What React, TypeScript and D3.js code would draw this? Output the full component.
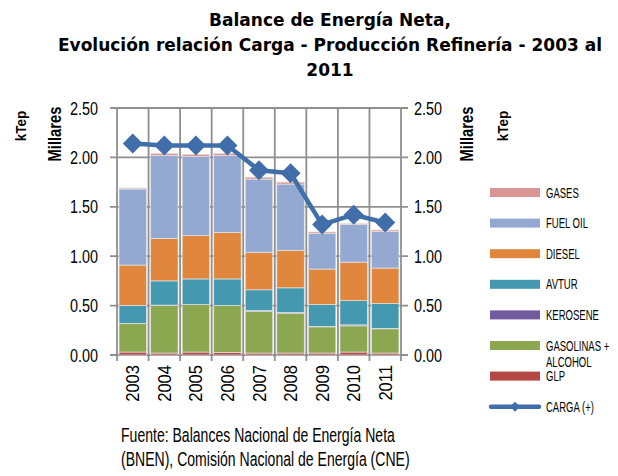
import React, { useRef, useEffect } from "react";
import * as d3 from "d3";

// años y series (miles de kTep)
const years = ["2003", "2004", "2005", "2006", "2007", "2008", "2009", "2010", "2011"];
const glp = [0.03, 0.02, 0.03, 0.025, 0.02, 0.02, 0.02, 0.03, 0.02];
const gasolinas = [0.29, 0.48, 0.48, 0.475, 0.42, 0.40, 0.265, 0.265, 0.245];
const kerosene = [0.0, 0.005, 0.0, 0.0, 0.01, 0.01, 0.005, 0.01, 0.005];
const avtur = [0.18, 0.245, 0.26, 0.27, 0.21, 0.25, 0.22, 0.245, 0.25];
const diesel = [0.41, 0.43, 0.44, 0.47, 0.38, 0.38, 0.36, 0.39, 0.36];
const fuelOil = [0.77, 0.84, 0.80, 0.78, 0.74, 0.67, 0.36, 0.38, 0.37];
const gases = [0.01, 0.02, 0.02, 0.02, 0.02, 0.02, 0.015, 0.01, 0.015];
const carga = [2.14, 2.12, 2.12, 2.12, 1.87, 1.84, 1.32, 1.42, 1.34];
const yTicks = [0, 0.5, 1, 1.5, 2, 2.5];

const keys = ["glp", "gasolinas", "kerosene", "avtur", "diesel", "fuelOil", "gases"];
const colors: Record<string, string> = {
  glp: "#B54845",
  gasolinas: "#8BA74F",
  kerosene: "#735A9E",
  avtur: "#4499B1",
  diesel: "#E0873D",
  fuelOil: "#93A9D2",
  gases: "#D99695",
};
const legendItems = [
  { key: "gases", label: ["GASES"] },
  { key: "fuelOil", label: ["FUEL OIL"] },
  { key: "diesel", label: ["DIESEL"] },
  { key: "avtur", label: ["AVTUR"] },
  { key: "kerosene", label: ["KEROSENE"] },
  { key: "gasolinas", label: ["GASOLINAS +", "ALCOHOL"] },
  { key: "glp", label: ["GLP"] },
];

const sans = "'Liberation Sans', Arial, sans-serif";

const App = () => {
  const container = useRef<SVGSVGElement>(null);
  const width = 618;
  const height = 476;

  useEffect(() => {
    const svg = d3.select(container.current);
    svg.selectAll("*").remove();

    // condensed text: the original font is very narrow, so squeeze Liberation Sans
    const narrowText = (
      x: number,
      y: number,
      str: string,
      size: number,
      sx: number,
      anchor = "start",
      rotate = 0,
      weight = "normal"
    ) =>
      svg
        .append("text")
        .attr("transform", `translate(${x},${y}) rotate(${rotate}) scale(${sx},1)`)
        .attr("text-anchor", anchor)
        .style("font-family", sans)
        .style("font-size", `${size}px`)
        .style("font-weight", weight)
        .attr("fill", "#000")
        .text(str);

    const data = years.map((year, i) => ({
      year,
      glp: glp[i],
      gasolinas: gasolinas[i],
      kerosene: kerosene[i],
      avtur: avtur[i],
      diesel: diesel[i],
      fuelOil: fuelOil[i],
      gases: gases[i],
      carga: carga[i],
    }));

    const left = 117;
    const right = 401;
    const top = 108;
    const bottom = 355;

    const xScale = d3
      .scaleBand()
      .domain(years)
      .range([left, right])
      .paddingInner(0.13)
      .paddingOuter(0.065);
    const step = xScale.step();
    const yScale = d3.scaleLinear().domain([0, 2.5]).range([bottom, top]);

    const grid = svg.append("g").attr("stroke", "#8f8f8f").attr("stroke-width", 1.8);

    // horizontal grid + ticks
    yTicks.forEach((t) => {
      grid
        .append("line")
        .attr("x1", left - 7)
        .attr("x2", right + 7)
        .attr("y1", yScale(t))
        .attr("y2", yScale(t));
    });
    // vertical grid at category boundaries
    d3.range(years.length + 1).forEach((i) => {
      const x = left + i * step;
      grid
        .append("line")
        .attr("x1", x)
        .attr("x2", x)
        .attr("y1", top)
        .attr("y2", bottom + 6);
    });

    // stacked bars
    const stackedData = d3.stack<any>().keys(keys)(data);
    svg
      .selectAll(".layer")
      .data(stackedData)
      .enter()
      .append("g")
      .attr("fill", (d) => colors[d.key])
      .selectAll("rect")
      .data((d) => d)
      .enter()
      .append("rect")
      .attr("x", (d: any) => xScale(d.data.year) as number)
      .attr("y", (d) => yScale(d[1]))
      .attr("height", (d) => yScale(d[0]) - yScale(d[1]))
      .attr("width", xScale.bandwidth())
      .attr("stroke", "#e4e4e4")
      .attr("stroke-width", 0.7);

    // line CARGA
    const lineGen = d3
      .line<any>()
      .x((d) => (xScale(d.year) as number) + xScale.bandwidth() / 2)
      .y((d) => yScale(d.carga));
    svg
      .append("path")
      .datum(data)
      .attr("d", lineGen)
      .attr("fill", "none")
      .attr("stroke", "#3F6EAA")
      .attr("stroke-width", 4.5)
      .attr("stroke-linejoin", "round");

    const diamond = "M0,-10L10,0L0,10L-10,0Z";
    svg
      .selectAll(".marker")
      .data(data)
      .enter()
      .append("path")
      .attr("d", diamond)
      .attr(
        "transform",
        (d) => `translate(${(xScale(d.year) as number) + xScale.bandwidth() / 2},${yScale(d.carga)})`
      )
      .attr("fill", "#3F6EAA");

    // y tick labels (both sides)
    yTicks.forEach((t) => {
      const lbl = d3.format(".2f")(t);
      narrowText(98, yScale(t) + 6.5, lbl, 18, 0.8, "end");
      narrowText(414, yScale(t) + 6.5, lbl, 18, 0.8, "start");
    });

    // x tick labels
    years.forEach((y) => {
      const cx = (xScale(y) as number) + xScale.bandwidth() / 2;
      narrowText(cx + 6.5, 365, y, 18, 0.92, "end", -90);
    });

    // axis titles
    narrowText(26, 126, "kTep", 15, 0.9, "middle", -90, "bold");
    narrowText(61, 134, "Millares", 18, 0.82, "middle", -90, "bold");
    narrowText(473, 134, "Millares", 18, 0.82, "middle", -90, "bold");
    narrowText(508, 126, "kTep", 15, 0.9, "middle", -90, "bold");

    // legend
    legendItems.forEach((item, i) => {
      const cy = 192.5 + i * 30.6;
      svg
        .append("rect")
        .attr("x", 490)
        .attr("y", cy - 4.5)
        .attr("width", 50)
        .attr("height", 9)
        .attr("fill", colors[item.key]);
      item.label.forEach((l, j) => {
        narrowText(546, cy + 5 + j * 16, l, 14, 0.68);
      });
    });
    const cy = 192.5 + 7 * 30.6;
    svg
      .append("line")
      .attr("x1", 491)
      .attr("x2", 539)
      .attr("y1", cy)
      .attr("y2", cy)
      .attr("stroke", "#3F6EAA")
      .attr("stroke-width", 4.5)
      .attr("stroke-linecap", "round");
    svg
      .append("path")
      .attr("d", "M0,-5L5,0L0,5L-5,0Z")
      .attr("transform", `translate(515,${cy})`)
      .attr("fill", "#3F6EAA");
    narrowText(546, cy + 5, "CARGA (+)", 14, 0.68);

    // title
    const titleLines = [
      "Balance de Energía Neta,",
      "Evolución relación Carga - Producción Refinería - 2003 al",
      "2011",
    ];
    titleLines.forEach((l, i) => {
      svg
        .append("text")
        .attr("x", 330)
        .attr("y", 26 + i * 25)
        .attr("text-anchor", "middle")
        .style("font-family", "'DejaVu Sans', Verdana, sans-serif")
        .style("font-weight", "bold")
        .style("font-size", "17px")
        .text(l);
    });

    // source
    const source = [
      "Fuente: Balances Nacional de Energía Neta",
      "(BNEN), Comisión Nacional de Energía (CNE)",
    ];
    source.forEach((l, i) => {
      narrowText(121, 442 + i * 24, l, 19.5, 0.72);
    });
  }, []);

  return (
    <svg
      ref={container}
      width={width}
      height={height}
      style={{ position: "absolute", left: 0, top: 0, background: "#fff" }}
    />
  );
};

export default App;
